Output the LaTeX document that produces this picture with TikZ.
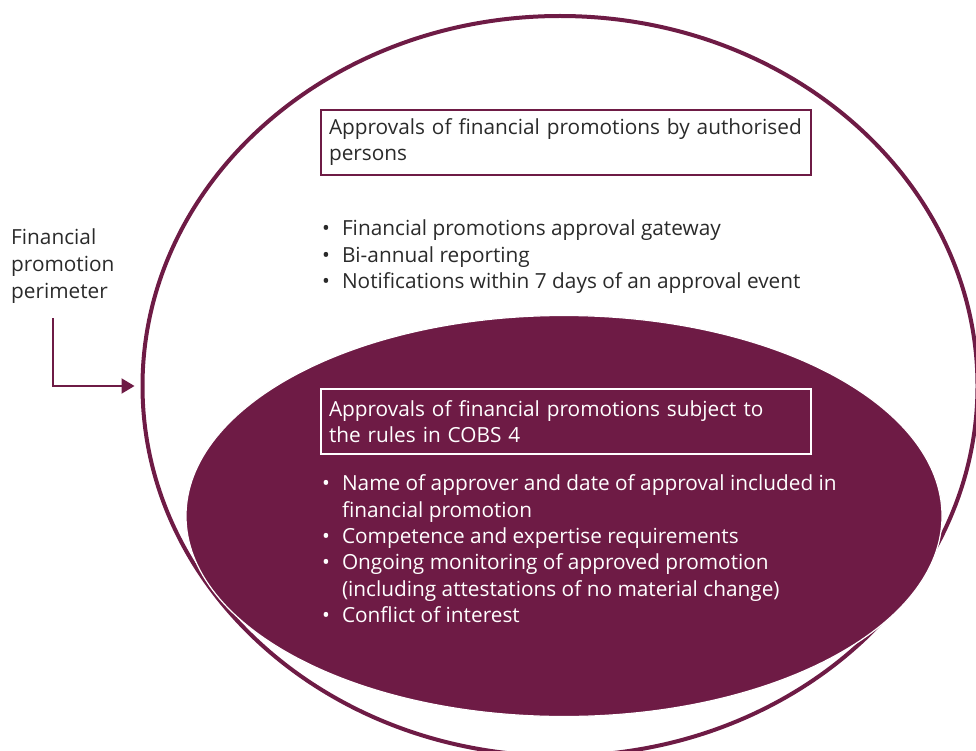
\documentclass[tikz,border=0pt]{standalone}
\usepackage{fontspec}
\setmainfont{Open Sans}
\usepackage{xcolor}
\definecolor{plum}{HTML}{6E1B45}
\definecolor{inktext}{HTML}{2A2A2A}
\usetikzlibrary{shapes.geometric, arrows.meta, positioning, calc}

\begin{document}
\begin{tikzpicture}
        [
          x=1pt, y=-1pt,
          every node/.style={align=left, text=inktext, inner sep=0pt,
            font=\fontsize{20.8}{26}\selectfont},
          ring/.style={ellipse, draw=plum, line width=4pt},
          blob/.style={ellipse, fill=plum, draw=white, line width=1.2pt},
          headbox/.style={anchor=north west, line width=2pt, minimum width=488pt,
            minimum height=65pt, text width=474pt, inner xsep=8pt},
          bullets/.style={anchor=north west, font=\fontsize{20.8}{26.4}\selectfont},
          onplum/.style={text=white},
          pointer/.style={draw=plum, line width=2pt, -{Triangle[length=13pt,width=15pt]}}
        ]
        \useasboundingbox (0,0) rectangle (976,751);

        % the two ellipses
        \node[ring, minimum width=835pt, minimum height=740pt] (outer) at (560,386) {};
        \node[blob, minimum width=756pt, minimum height=401pt] (inner) at (564,516) {};

        % perimeter label and its arrow
        \node[anchor=north west, font=\fontsize{20.8}{27}\selectfont] (perimeter) at (11,228)
          {Financial\\promotion\\perimeter};
        \coordinate (arrowstart) at (53,318);
        \path[pointer, shorten >=6pt] (arrowstart) |- (outer.west);

        % authorised persons
        \node[headbox, draw=plum] (authbox) at (320,109)
          {Approvals of financial promotions by authorised\\persons};
        \node[bullets] (authlist) at (322,217)
          {\begin{tabular}{@{}l@{\hspace{12pt}}l@{}}
            \textbullet & Financial promotions approval gateway\\
            \textbullet & Bi-annual reporting\\
            \textbullet & Notifications within 7 days of an approval event
          \end{tabular}};

        % COBS 4
        \node[headbox, draw=white, onplum] (cobsbox) at (320,388)
          {Approvals of financial promotions subject to\\the rules in COBS 4};
        \node[bullets, onplum] (cobslist) at (322,472)
          {\begin{tabular}{@{}l@{\hspace{12pt}}l@{}}
            \textbullet & Name of approver and date of approval included in\\
                        & financial promotion\\
            \textbullet & Competence and expertise requirements\\
            \textbullet & Ongoing monitoring of approved promotion\\
                        & (including attestations of no material change)\\
            \textbullet & Conflict of interest
          \end{tabular}};
      \end{tikzpicture}
\end{document}
